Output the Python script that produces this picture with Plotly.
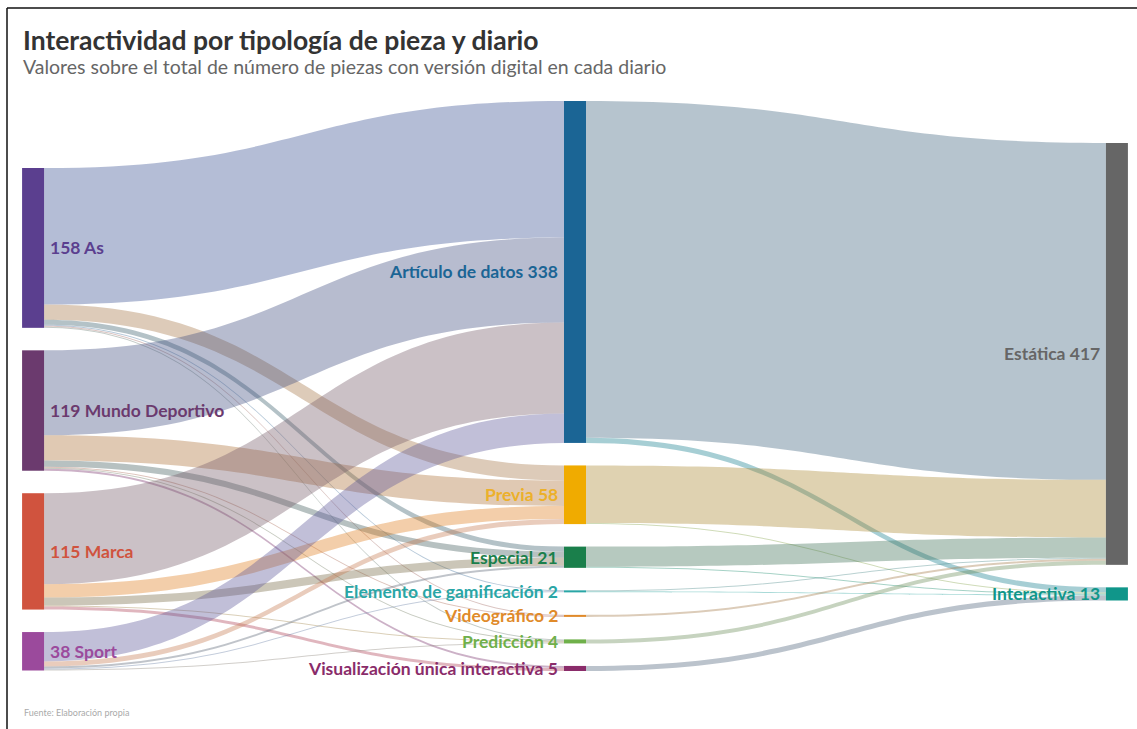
import plotly.graph_objects as go

# ---------------- data ----------------
sources = ["As", "Mundo Deportivo", "Marca", "Sport"]
source_values = [158, 119, 115, 38]

types = ["Artículo de datos", "Previa", "Especial", "Elemento de gamificación",
         "Videográfico", "Predicción", "Visualización única interactiva"]
type_values = [338, 58, 21, 2, 2, 4, 5]

outcomes = ["Estática", "Interactiva"]
outcome_values = [417, 13]

# flows newspaper -> type (rows: sources, cols: types)
flow_src_type = [
    [135, 15, 5, 1, 1, 1, 0],   # As
    [84, 25, 6, 0, 1, 1, 2],    # Mundo Deportivo
    [90, 13, 8, 0, 0, 1, 3],    # Marca
    [29, 5, 2, 1, 0, 1, 0],     # Sport
]
# flows type -> outcome (rows: types, cols: Estática, Interactiva)
flow_type_out = [
    [333, 5],
    [57, 1],
    [20, 1],
    [1, 1],
    [2, 0],
    [4, 0],
    [0, 5],
]

# ---------------- styles ----------------
source_colors = ["#5b3f8f", "#6b3a6e", "#d0533e", "#9b4a9c"]
type_colors = ["#1b6595", "#f0ab00", "#1a7f4b", "#2aa6a6", "#e08a2a", "#6fb04a", "#8a2c6a"]
type_label_colors = ["#1b6595", "#ecb02a", "#1a7f4b", "#2aa6a6", "#e08a2a", "#6fb04a", "#8a2c6a"]
outcome_colors = ["#666666", "#10968a"]

FIG_W, FIG_H = 1137, 729
M_L, M_R, M_T, M_B = 32, 19, 101, 58
PLOT_W = FIG_W - M_L - M_R
PLOT_H = FIG_H - M_T - M_B
PAD = 22.5
THICK = 22
COL_X = [0.001, 0.5, 0.999]
COL_OFFSET = [67, 0, 42]   # px from the top of the sankey area
FONT = "Lato"
LABEL_SIZE = 17.5


def hex_rgb(h):
    h = h.lstrip("#")
    return tuple(int(h[i:i + 2], 16) for i in (0, 2, 4))


def blend(c1, c2, alpha=0.38):
    a, b = hex_rgb(c1), hex_rgb(c2)
    mid = [(x + y) / 2 for x, y in zip(a, b)]
    return "rgba(%d,%d,%d,%.2f)" % (mid[0], mid[1], mid[2], alpha)


def px2x(px):
    return (px - M_L) / PLOT_W


def px2y(py):
    return 1 - (py - M_T) / PLOT_H


# ---------------- nodes ----------------
columns = [
    (sources, source_values, source_colors, source_colors),
    (types, type_values, type_colors, type_label_colors),
    (outcomes, outcome_values, outcome_colors, outcome_colors),
]
total = sum(source_values)
ky = (PLOT_H - (len(types) - 1) * PAD) / total

labels, node_colors, node_x, node_y = [], [], [], []
annotations = []
for ci, (names, vals, cols, lcols) in enumerate(columns):
    top = COL_OFFSET[ci]
    for name, v, c, lc in zip(names, vals, cols, lcols):
        h = v * ky
        cy = top + h / 2
        top += h + PAD
        labels.append(name)
        node_colors.append(c)
        node_x.append(COL_X[ci])
        node_y.append(cy / PLOT_H)
        cx_px = M_L + COL_X[ci] * PLOT_W
        if ci == 0:
            text = f"{v} {name}"
            ax, anchor = cx_px + THICK / 2 + 4, "left"
        else:
            text = f"{name} {v}"
            ax, anchor = cx_px - THICK / 2 - 4, "right"
        annotations.append(dict(
            x=px2x(ax), y=1 - cy / PLOT_H, xref="paper", yref="paper",
            text=text, showarrow=False, xanchor=anchor, yanchor="middle",
            font=dict(family=FONT, size=LABEL_SIZE, color=lc, weight=700),
        ))

n_src = len(sources)
n_type = len(types)

link_s, link_t, link_v, link_c = [], [], [], []
for i, row in enumerate(flow_src_type):
    for j, v in enumerate(row):
        if v > 0:
            link_s.append(i)
            link_t.append(n_src + j)
            link_v.append(v)
            link_c.append(blend(source_colors[i], type_colors[j]))
for j, row in enumerate(flow_type_out):
    for k, v in enumerate(row):
        if v > 0:
            link_s.append(n_src + j)
            link_t.append(n_src + n_type + k)
            link_v.append(v)
            link_c.append(blend(type_colors[j], outcome_colors[k]))

fig = go.Figure(go.Sankey(
    arrangement="fixed",
    domain=dict(x=[0, 1], y=[0, 1]),
    node=dict(
        label=labels, color=node_colors, x=node_x, y=node_y,
        pad=PAD, thickness=THICK, line=dict(width=0),
    ),
    link=dict(source=link_s, target=link_t, value=link_v, color=link_c),
    textfont=dict(color="rgba(0,0,0,0)", size=1),
))

# titles and footer
annotations += [
    dict(x=px2x(21), y=px2y(40), xref="paper", yref="paper", showarrow=False,
         xanchor="left", yanchor="middle",
         text="Interactividad por tipología de pieza y diario",
         font=dict(family=FONT, size=26.5, color="#333333", weight=700)),
    dict(x=px2x(21), y=px2y(66), xref="paper", yref="paper", showarrow=False,
         xanchor="left", yanchor="middle",
         text="Valores sobre el total de número de piezas con versión digital en cada diario",
         font=dict(family=FONT, size=19.5, color="#666666")),
    dict(x=px2x(22), y=px2y(712), xref="paper", yref="paper", showarrow=False,
         xanchor="left", yanchor="middle",
         text="Fuente: Elaboración propia",
         font=dict(family=FONT, size=9, color="#aaaaaa")),
]

shapes = [
    dict(type="line", xref="paper", yref="paper", x0=px2x(7), x1=px2x(1137),
         y0=px2y(8), y1=px2y(8), line=dict(color="#111111", width=1.5)),
    dict(type="line", xref="paper", yref="paper", x0=px2x(7), x1=px2x(7),
         y0=px2y(8), y1=px2y(729), line=dict(color="#111111", width=1.5)),
]

fig.update_layout(
    width=FIG_W, height=FIG_H,
    margin=dict(l=M_L, r=M_R, t=M_T, b=M_B),
    paper_bgcolor="white", plot_bgcolor="white",
    annotations=annotations, shapes=shapes,
    font=dict(family=FONT),
)

fig.write_html("out.html", config={"displayModeBar": False},
               post_script="document.body.style.margin='0';document.body.style.overflow='hidden';")
